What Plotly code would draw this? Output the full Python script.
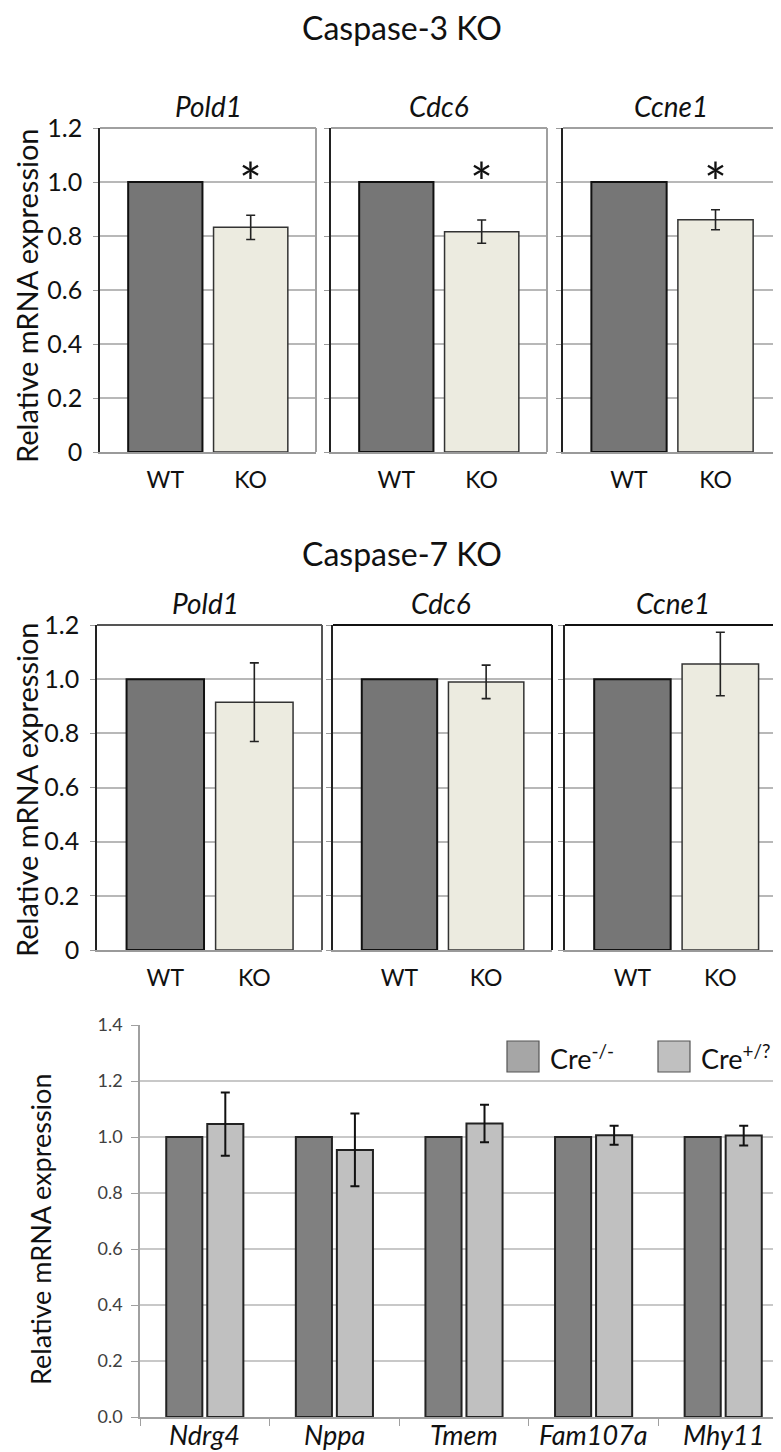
import plotly.graph_objects as go

# The page body has an 8px default margin, so the figure is sized to the
# visible area and reference pixel coordinates are shifted by that margin.
OFF = 8
W, H = 781 - OFF, 1452 - OFF
FONT = "Lato"

# ---------------- data ----------------
groups = ["WT", "KO"]
genes_top = ["Pold1", "Cdc6", "Ccne1"]

casp3_wt = [1.0, 1.0, 1.0]
casp3_ko = [0.832, 0.816, 0.860]
casp3_ko_err = [0.045, 0.043, 0.037]
casp3_sig = ["*", "*", "*"]

casp7_wt = [1.0, 1.0, 1.0]
casp7_ko = [0.915, 0.990, 1.056]
casp7_ko_err = [0.145, 0.062, 0.117]

cre_genes = ["Ndrg4", "Nppa", "Tmem", "Fam107a", "Mhy11"]
cre_neg = [1.0, 1.0, 1.0, 1.0, 1.0]
cre_pos = [1.046, 0.954, 1.048, 1.006, 1.005]
cre_pos_err = [0.113, 0.130, 0.067, 0.034, 0.035]

top_ticks = [0, 0.2, 0.4, 0.6, 0.8, 1.0, 1.2]
top_ticktext = ["0", "0.2", "0.4", "0.6", "0.8", "1.0", "1.2"]

# ---------------- helpers ----------------
def fx(px):
    return (px - OFF) / W

def fy(py):
    return 1 - (py - OFF) / H

WT_COLOR = "#767676"
KO_COLOR = "#ecebe0"
NEG_COLOR = "#808080"
POS_COLOR = "#c0c0c0"

fig = go.Figure()
layout = dict(
    width=W, height=H, margin=dict(l=0, r=0, t=0, b=0, autoexpand=False),
    paper_bgcolor="white", plot_bgcolor="white",
    showlegend=False, barmode="group", bargap=0.367, bargroupgap=0.12,
    font=dict(family=FONT, color="#111111"),
)
shapes = []
annotations = []

# panel geometry in reference pixels: (x0, x1, y_top, y_bottom, x_range)
top_panels = [
    (100, 316, 128, 452, [-0.765, 1.765]),
    (331, 547, 128, 452, [-0.765, 1.765]),
    (563, 781, 128, 452, [-0.763, 1.757]),
]
mid_panels = [
    (97, 322, 625, 950, [-0.767, 1.76]),
    (333, 552, 625, 950, [-0.767, 1.76]),
    (565, 781, 625, 950, [-0.767, 1.69]),
]

def add_panel(idx, geom, wt_vals, ko_vals, ko_err, gi, first, frame_color, left_color, show_right, sig=None):
    x0, x1, yt, yb, xr = geom
    xa = "x" if idx == 1 else f"x{idx}"
    ya = "y" if idx == 1 else f"y{idx}"
    xkey = "xaxis" if idx == 1 else f"xaxis{idx}"
    ykey = "yaxis" if idx == 1 else f"yaxis{idx}"
    fig.add_trace(go.Bar(
        x=[groups[0]], y=[wt_vals[gi]], xaxis=xa, yaxis=ya, width=0.87,
        offsetgroup="g", marker=dict(color=WT_COLOR, line=dict(color="#111111", width=2)),
    ))
    fig.add_trace(go.Bar(
        x=[groups[1]], y=[ko_vals[gi]], xaxis=xa, yaxis=ya, width=0.87,
        offsetgroup="g", marker=dict(color=KO_COLOR, line=dict(color="#333333", width=1.5)),
        error_y=dict(type="data", array=[ko_err[gi]], color="#222222", thickness=1.6, width=4.5),
    ))
    layout[xkey] = dict(
        domain=[fx(x0), min(fx(x1), 1)], anchor=ya, type="category", automargin=False,
        categoryorder="array", categoryarray=groups, range=xr,
        showgrid=False, showline=True, linecolor="#9a9a9a", linewidth=2,
        ticks="outside", ticklen=6, tickcolor="rgba(0,0,0,0)",
        tickfont=dict(family=FONT, size=23, color="#111111"), zeroline=False, fixedrange=True,
    )
    layout[ykey] = dict(
        domain=[fy(yb), fy(yt)], anchor=xa, range=[0, 1.2], automargin=False,
        tickvals=top_ticks, ticktext=top_ticktext, showticklabels=first,
        showgrid=True, gridcolor="#b8b8b8", gridwidth=2,
        showline=True, linecolor=left_color, linewidth=1.5,
        ticks="outside", ticklen=5, tickcolor="#9a9a9a",
        ticklabelstandoff=6,
        tickfont=dict(family=FONT, size=25, color="#111111"), zeroline=False, fixedrange=True,
    )
    # frame: top and right
    shapes.append(dict(type="line", xref=f"{xa} domain", yref=f"{ya} domain",
                       x0=0, x1=1, y0=1, y1=1, line=dict(color=frame_color, width=2)))
    if show_right:
        shapes.append(dict(type="line", xref=f"{xa} domain", yref=f"{ya} domain",
                           x0=1, x1=1, y0=0, y1=1, line=dict(color=frame_color, width=2)))
    # subplot title
    annotations.append(dict(text=f"<i>{genes_top[gi]}</i>", xref="paper", yref="paper",
                            x=fx((x0 + x0 + 216) / 2), y=fy(yt - 22), showarrow=False,
                            xanchor="center", yanchor="middle",
                            font=dict(family=FONT, size=28, color="#111111")))
    if sig:
        annotations.append(dict(text=sig, xref=xa, yref=ya, x=1, y=1.0, showarrow=False,
                                xanchor="center", yanchor="middle",
                                font=dict(family=FONT, size=54, color="#111111")))

for i, g in enumerate(top_panels):
    add_panel(i + 1, g, casp3_wt, casp3_ko, casp3_ko_err, i, i == 0,
              "#a0a0a0", "#222222", i < 2, casp3_sig[i])
for i, g in enumerate(mid_panels):
    add_panel(i + 4, g, casp7_wt, casp7_ko, casp7_ko_err, i, i == 0,
              "#555555" if i == 0 else "#111111", "#222222", i < 2)

# section titles
annotations.append(dict(text="Caspase-3 KO", xref="paper", yref="paper", x=fx(402), y=fy(28),
                        showarrow=False, xanchor="center", yanchor="middle",
                        font=dict(family=FONT, size=32, color="#111111")))
annotations.append(dict(text="Caspase-7 KO", xref="paper", yref="paper", x=fx(402), y=fy(553),
                        showarrow=False, xanchor="center", yanchor="middle",
                        font=dict(family=FONT, size=32, color="#111111")))
# y titles
for ycen in (296, 790):
    annotations.append(dict(text="Relative mRNA expression", xref="paper", yref="paper",
                            x=fx(26), y=fy(ycen), showarrow=False, textangle=-90,
                            xanchor="center", yanchor="middle",
                            font=dict(family=FONT, size=29, color="#111111")))
annotations.append(dict(text="Relative mRNA expression", xref="paper", yref="paper",
                        x=fx(40), y=fy(1230), showarrow=False, textangle=-90,
                        xanchor="center", yanchor="middle",
                        font=dict(family=FONT, size=27, color="#111111")))

# ---------------- bottom chart ----------------
fig.add_trace(go.Bar(
    x=cre_genes, y=cre_neg, xaxis="x7", yaxis="y7", name="Cre-/-", offsetgroup="neg",
    marker=dict(color=NEG_COLOR, line=dict(color="#222222", width=2)),
))
fig.add_trace(go.Bar(
    x=cre_genes, y=cre_pos, xaxis="x7", yaxis="y7", name="Cre+/?", offsetgroup="pos",
    marker=dict(color=POS_COLOR, line=dict(color="#222222", width=2)),
    error_y=dict(type="data", array=cre_pos_err, color="#111111", thickness=2, width=4.5),
))
layout["xaxis7"] = dict(
    domain=[fx(140), 1], anchor="y7", type="category", automargin=False,
    categoryorder="array", categoryarray=cre_genes, range=[-0.5, 4.446],
    showgrid=False, showline=True, linecolor="#a0a0a0", linewidth=1.5,
    ticks="outside", tickson="boundaries", ticklen=7, tickcolor="#a0a0a0", tickwidth=1.2,
    showticklabels=False, zeroline=False, fixedrange=True,
)
layout["yaxis7"] = dict(
    domain=[fy(1417), fy(1025)], anchor="x7", range=[0, 1.4], dtick=0.2, tickformat=".1f",
    automargin=False,
    showgrid=True, gridcolor="#c8c8c8", gridwidth=1.5,
    showline=True, linecolor="#a0a0a0", linewidth=1.5,
    ticks="outside", ticklen=7, tickcolor="#a0a0a0",
    ticklabelstandoff=5,
    tickfont=dict(family=FONT, size=18, color="#404040"), zeroline=False, fixedrange=True,
)
# gene labels placed tightly under the axis
for i, g in enumerate(cre_genes):
    annotations.append(dict(text=f"<i>{g}</i>", xref="x7", yref="paper", x=i, y=fy(1434),
                            showarrow=False, xanchor="center", yanchor="middle",
                            font=dict(family=FONT, size=27, color="#111111")))

# legend (drawn manually to match large swatches)
legend_items = [("Cre<sup>-/-</sup>", "#a6a6a6", 507), ("Cre<sup>+/?</sup>", POS_COLOR, 658)]
for label, col, lx in legend_items:
    shapes.append(dict(type="rect", xref="paper", yref="paper",
                       x0=fx(lx), x1=fx(lx + 32), y0=fy(1072), y1=fy(1041),
                       fillcolor=col, line=dict(color="#555555", width=1.2)))
    annotations.append(dict(text=label, xref="paper", yref="paper", x=fx(lx + 41), y=fy(1057),
                            showarrow=False, xanchor="left", yanchor="middle",
                            font=dict(family=FONT, size=27, color="#111111")))

layout["shapes"] = shapes
layout["annotations"] = annotations
fig.update_layout(**layout)
fig.write_html("out.html")
